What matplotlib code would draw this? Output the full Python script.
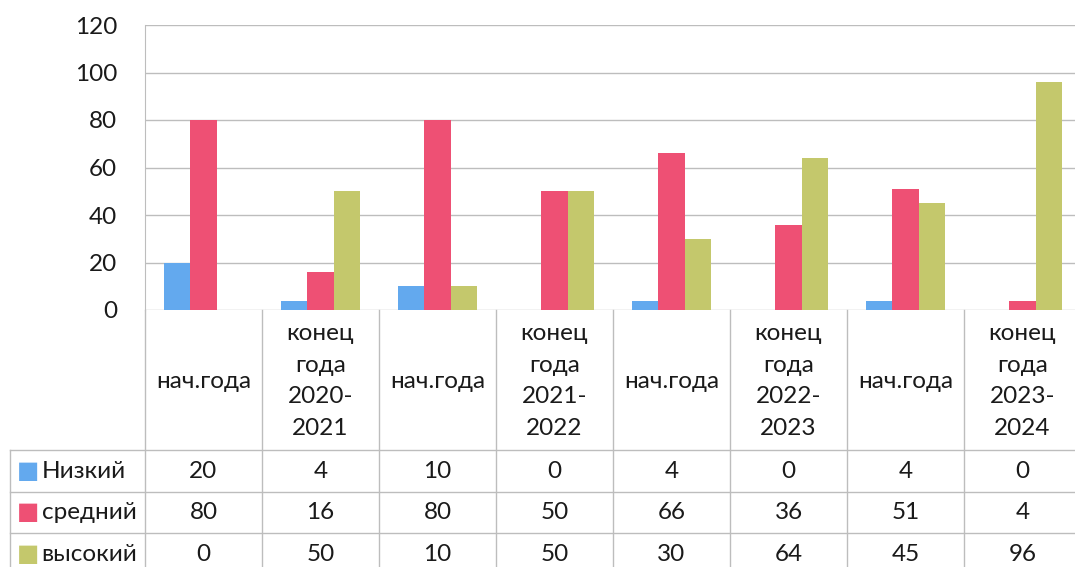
import matplotlib.pyplot as plt
import numpy as np

categories = ["нач.года", "конец\nгода\n2020-\n2021", "нач.года", "конец\nгода\n2021-\n2022",
              "нач.года", "конец\nгода\n2022-\n2023", "нач.года", "конец\nгода\n2023-\n2024"]
series_names = ["Низкий", "средний", "высокий"]
low = [20, 4, 10, 0, 4, 0, 4, 0]
mid = [80, 16, 80, 50, 66, 36, 51, 4]
high = [0, 50, 10, 50, 30, 64, 45, 96]
colors = ["#63A9EE", "#EE5074", "#C4C86C"]
yticks = [0, 20, 40, 60, 80, 100, 120]

plt.rcParams['font.family'] = ['Lato', 'DejaVu Sans']

W, H = 1075, 567
fig = plt.figure(figsize=(W / 100, H / 100), dpi=100)
# plot area in pixels: x 145..1081, y 25..310
ax = fig.add_axes([145 / W, 1 - 310 / H, (1081 - 145) / W, (310 - 25) / H])

x = np.arange(len(categories))
bw = 0.225
for k, vals in enumerate([low, mid, high]):
    ax.bar(x + (k - 1) * bw, vals, width=bw, color=colors[k], zorder=3)

ax.set_xlim(-0.5, len(categories) - 0.5)
ax.set_ylim(0, 120)
ax.set_yticks(yticks)
ax.set_xticks([])
ax.tick_params(axis='y', length=0, labelsize=17.5, pad=20, colors='#1a1a1a')
ax.grid(axis='y', color='#BDBDBD', linewidth=1, zorder=0)
for s in ['top', 'right', 'bottom']:
    ax.spines[s].set_visible(False)
ax.spines['left'].set_color('#BDBDBD')

# data table below the plot
tr = ax.get_xaxis_transform()
ph = 310 - 25
def ay(py):
    return (310 - py) / ph

cw = (1081 - 145) / len(categories)
xl = -0.5 - (145 - 10) / cw
xr = len(categories) - 0.5
line_kw = dict(color='#BDBDBD', linewidth=1, transform=tr, clip_on=False)

row_edges = [450, 492, 533, 576]
bottom = ay(row_edges[-1])
for i in range(len(categories) + 1):
    ax.plot([i - 0.5, i - 0.5], [0, bottom], **line_kw)
ax.plot([xl, xl], [ay(row_edges[0]), bottom], **line_kw)
for py in row_edges:
    ax.plot([xl, xr], [ay(py), ay(py)], **line_kw)

for i, lab in enumerate(categories):
    ax.text(i, ay((310 + 452) / 2), lab, transform=tr, ha='center', va='center',
            fontsize=17.5, linespacing=1.62, color='#1a1a1a', clip_on=False)

for r, (name, vals) in enumerate(zip(series_names, [low, mid, high])):
    yc = ay((row_edges[r] + row_edges[r + 1]) / 2)
    ax.text(xl + 0.055, yc, "■", transform=tr, ha='left', va='center',
            fontsize=17, color=colors[r], family='DejaVu Sans', clip_on=False)
    ax.text(xl + 0.27, yc, name, transform=tr, ha='left', va='center',
            fontsize=17.5, color='#1a1a1a', clip_on=False)
    for i, v in enumerate(vals):
        ax.text(i, yc, str(v), transform=tr, ha='center', va='center',
                fontsize=17.5, color='#1a1a1a', clip_on=False)

fig.savefig("out.png", dpi=100)
